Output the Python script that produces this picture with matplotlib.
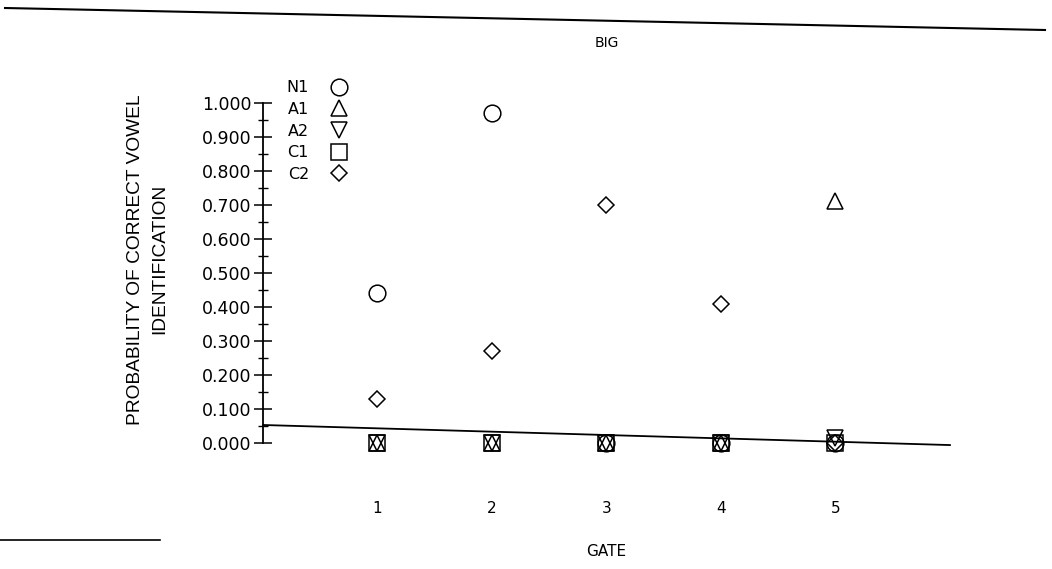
import matplotlib
matplotlib.use("Agg")
import matplotlib.pyplot as plt
from matplotlib.lines import Line2D
import numpy as np

plt.rcParams['font.family'] = ['DejaVu Sans']

gates = [1, 2, 3, 4, 5]
gate_labels = ["1", "2", "3", "4", "5"]
N1 = [0.44, 0.97, 0.0, 0.0, 0.0]
A1 = [0.0, 0.0, 0.0, 0.0, 0.71]
A2 = [0.0, 0.0, 0.0, 0.0, 0.015]
C1 = [0.0, 0.0, 0.0, 0.0, 0.0]
C2 = [0.13, 0.27, 0.70, 0.41, 0.0]
yticks = [0.0, 0.1, 0.2, 0.3, 0.4, 0.5, 0.6, 0.7, 0.8, 0.9, 1.0]

fig = plt.figure(figsize=(10.52, 5.69), dpi=100)
ax = fig.add_axes([0.25, 0.2214, 0.653, 0.598])

series = [("N1", N1, "o", 12), ("A1", A1, "^", 11), ("A2", A2, "v", 11),
          ("C1", C1, "s", 11), ("C2", C2, "D", 8)]
for name, vals, m, ms in series:
    ax.plot(gates, vals, linestyle="none", marker=m, markersize=ms,
            markerfacecolor="none", markeredgecolor="black",
            markeredgewidth=1.1, label=name, clip_on=False)

ax.set_xlim(0, 6)
ax.set_ylim(0, 1.0)
for s in ["top", "right", "bottom"]:
    ax.spines[s].set_visible(False)
ax.spines["left"].set_linewidth(1.3)

ax.set_yticks(yticks)
ax.set_yticklabels([f"{v:.3f}" for v in yticks], fontsize=12.5)
ax.set_yticks(np.arange(0.05, 1.0, 0.1), minor=True)
ax.tick_params(axis="y", which="major", direction="inout", length=13, width=1.1, pad=2)
ax.tick_params(axis="y", which="minor", direction="inout", length=7, width=1.0)

ax.set_xticks(gates)
ax.set_xticklabels(gate_labels, fontsize=11)
ax.tick_params(axis="x", length=0, pad=42)

# skewed baseline as in the scan
ax.plot([0, 1], [0.053, -0.006], transform=ax.transAxes, color="black",
        linewidth=1.3, clip_on=False)

ax.set_xlabel("GATE", fontsize=11, labelpad=20)
ax.set_ylabel("PROBABILITY OF CORRECT VOWEL\nIDENTIFICATION", fontsize=13.8,
              linespacing=1.55, fontfamily="Liberation Sans")
ax.yaxis.set_label_coords(-0.138, 0.54)
ax.set_title("BIG", fontsize=10, pad=40)

leg = ax.legend(loc="upper left", bbox_to_anchor=(0.025, 1.085), frameon=False,
                markerfirst=False, fontsize=11.5, handletextpad=1.4,
                labelspacing=0.42, borderaxespad=0, handlelength=1.0)

# scan artifacts: page edge lines
fig.add_artist(Line2D([5 / 1052, 1045 / 1052], [1 - 8 / 569, 1 - 30 / 569],
                      color="black", linewidth=1.5))
fig.add_artist(Line2D([0, 160 / 1052], [1 - 540 / 569, 1 - 540 / 569],
                      color="black", linewidth=1.2))

fig.savefig("out.png", dpi=100)
